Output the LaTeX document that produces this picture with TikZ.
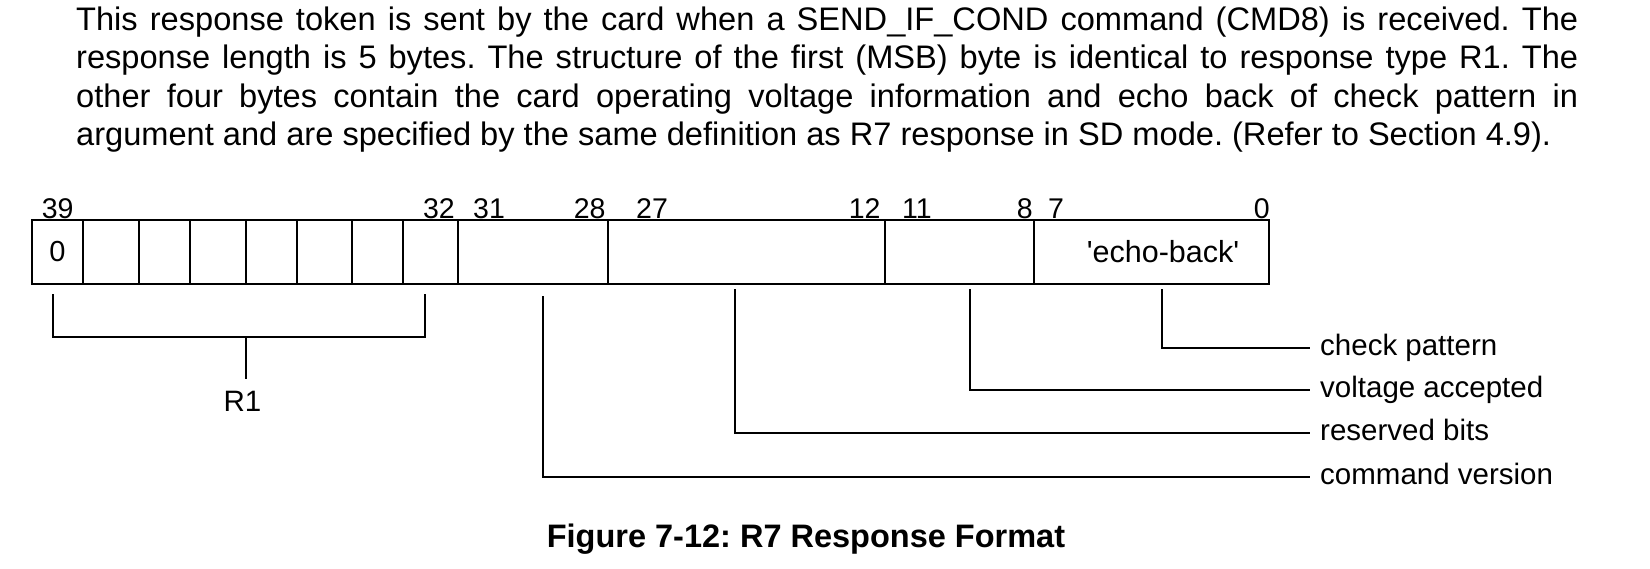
\documentclass[tikz,border=0pt]{standalone}
\usepackage{fontspec}
\setmainfont{Liberation Sans}
\frenchspacing
\begin{document}
\begin{tikzpicture}[x=1pt,y=-1pt,
  cell/.style={draw, line width=2pt, minimum height=64pt, inner sep=0pt, outer sep=0pt,
    anchor=north west, font=\fontsize{29}{31}\selectfont},
  num/.style={inner sep=0pt, font=\fontsize{28.5}{31}\selectfont},
  lbl/.style={anchor=west, inner sep=0pt, font=\fontsize{29.5}{32}\selectfont,
    text height=21.5pt, text depth=6.2pt},
  conn/.style={line width=1.8pt},
  para/.style={inner sep=0pt, anchor=base west, font=\fontsize{32.6}{38}\selectfont}]
\useasboundingbox[fill=white] (0,0) rectangle (1650,568);

% paragraph
\node[para] (p1) at (76,30) {\makebox[1502pt][s]{This response token is sent by the card when a SEND\_IF\_COND command (CMD8) is received. The}};
\node[para] (p2) at (76,68.5) {\makebox[1502pt][s]{response length is 5 bytes. The structure of the first (MSB) byte is identical to response type R1. The}};
\node[para] (p3) at (76,107) {\makebox[1502pt][s]{other four bytes contain the card operating voltage information and echo back of check pattern in}};
\node[para] (p4) at (76,145.5) {argument and are specified by the same definition as R7 response in SD mode. (Refer to Section 4.9).};

% register cells
\node[cell, minimum width=51.6pt] (c1) at (31.7,220) {0};
\node[cell, minimum width=55.7pt] (c2) at (83.3,220) {};
\node[cell, minimum width=51pt]   (c3) at (139,220) {};
\node[cell, minimum width=56pt]   (c4) at (190,220) {};
\node[cell, minimum width=50.7pt] (c5) at (246,220) {};
\node[cell, minimum width=55pt]   (c6) at (296.7,220) {};
\node[cell, minimum width=51.6pt] (c7) at (351.7,220) {};
\node[cell, minimum width=55pt]   (c8) at (403.3,220) {};
\node[cell, minimum width=149.4pt] (fver) at (458.3,220) {};
\node[cell, minimum width=277.3pt] (fres) at (607.7,220) {};
\node[cell, minimum width=149pt]   (fvolt) at (885,220) {};
\node[cell, minimum width=235.3pt] (fchk) at (1034,220) {};
\node[inner sep=0pt, font=\fontsize{30.5}{32}\selectfont] (echo) at (1163,252) {\textquotesingle echo-back\textquotesingle};

% bit numbers
\node[num, anchor=base west] (n39) at (41.7,218) {39};
\node[num, anchor=base east] (n32) at (455,218) {32};
\node[num, anchor=base west] (n31) at (473,218) {31};
\node[num, anchor=base east] (n28) at (605.7,218) {28};
\node[num, anchor=base west] (n27) at (636,218) {27};
\node[num, anchor=base east] (n12) at (880.7,218) {12};
\node[num, anchor=base west] (n11) at (902,218) {11};
\node[num, anchor=base east] (n8) at (1033,218) {8};
\node[num, anchor=base west] (n7) at (1048,218) {7};
\node[num, anchor=base east] (n0) at (1270,218) {0};

% R1 bracket
\coordinate (bL) at (53,294);
\coordinate (bR) at (425,294);
\coordinate (bM) at (246,337);
\coordinate (bS) at (246,379);
\draw[conn] (bL) |- (bR |- bM) -- (bR);
\draw[conn] (bM) -- (bS);
\node[inner sep=0pt, anchor=base, font=\fontsize{29.5}{32}\selectfont] (r1) at (242.5,411.5) {R1};

% field labels
\node[lbl] (ck) at (1320,348) {check pattern};
\node[lbl] (va) at (1320,390) {voltage accepted};
\node[lbl] (rb) at (1320,433) {reserved bits};
\node[lbl] (cv) at (1320,477) {command version};
\coordinate (ckT) at (1162,289);
\coordinate (vaT) at (970,289);
\coordinate (rbT) at (735,289);
\coordinate (cvT) at (543,296);
\draw[conn] (ckT) |- ([xshift=-10pt]ck.west);
\draw[conn] (vaT) |- ([xshift=-10pt]va.west);
\draw[conn] (rbT) |- ([xshift=-10pt]rb.west);
\draw[conn] (cvT) |- ([xshift=-10pt]cv.west);

% caption
\node[inner sep=0pt, anchor=base, font=\bfseries\fontsize{32.5}{36}\selectfont] (cap) at (806,547) {Figure 7-12: R7 Response Format};
\end{tikzpicture}
\end{document}
